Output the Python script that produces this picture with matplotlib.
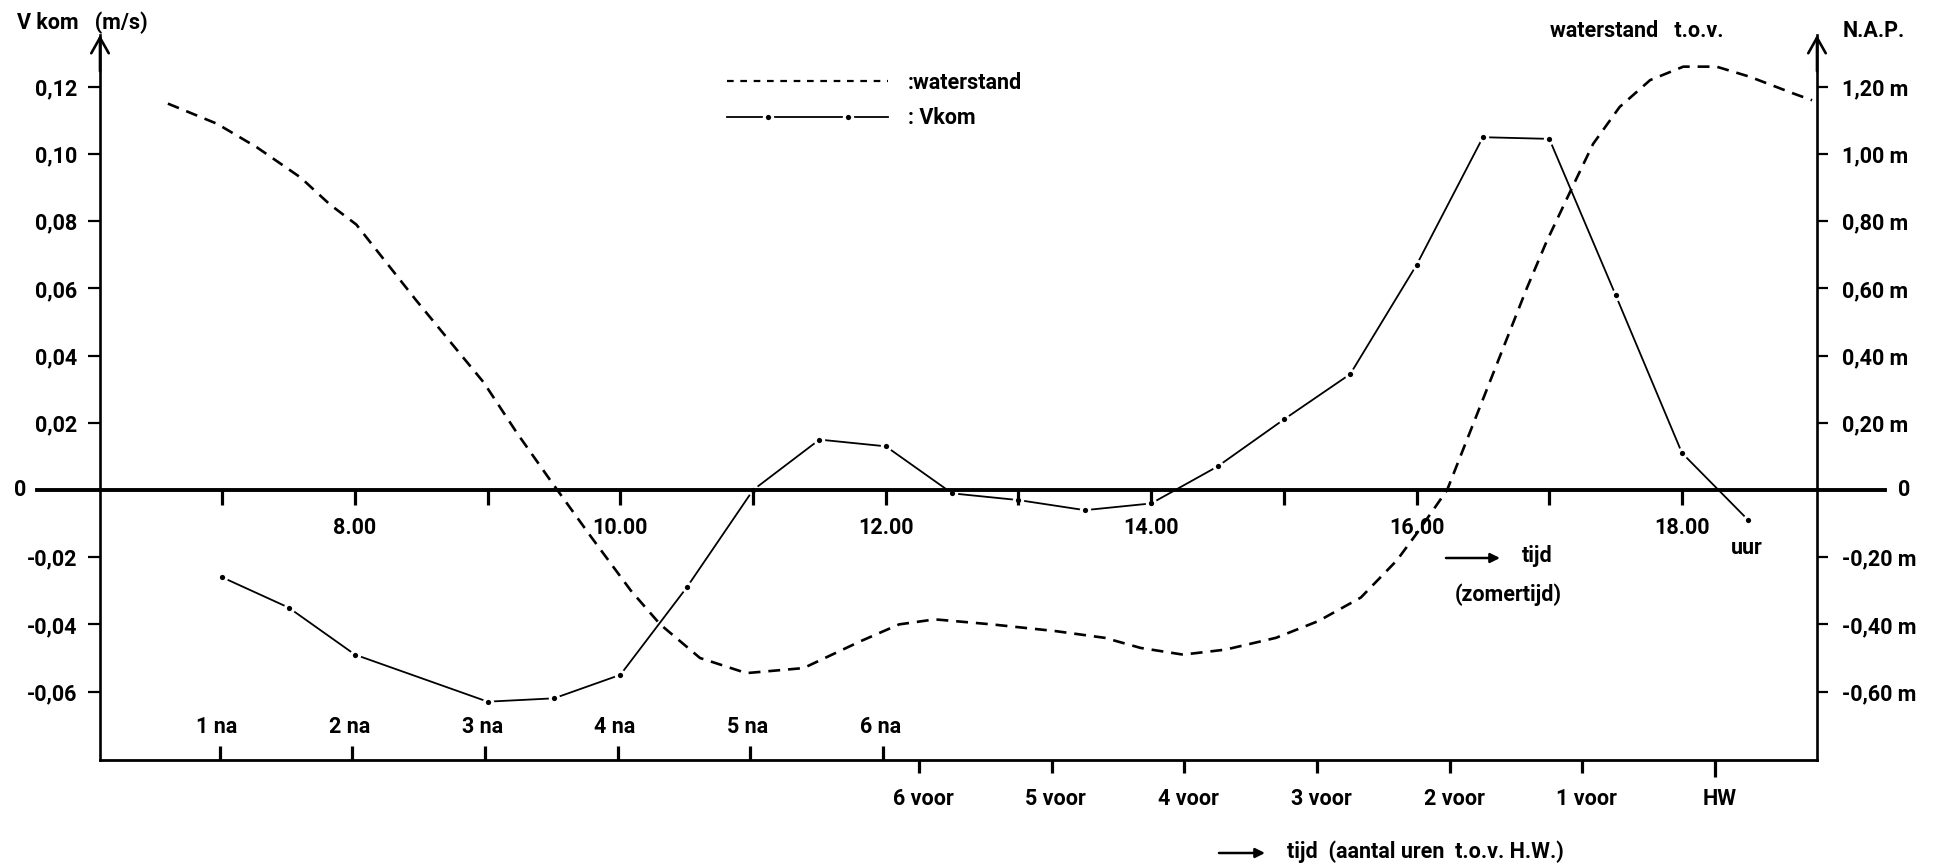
import matplotlib
matplotlib.use('Agg')
import matplotlib.pyplot as plt
from matplotlib.lines import Line2D
from matplotlib.legend_handler import HandlerLine2D, HandlerTuple
from matplotlib.markers import TICKUP, TICKDOWN

# ---------------- data ----------------
# Vkom (m/s) against clock time (hours, zomertijd)
vkom_time = [7.0, 7.5, 8.0, 9.0, 9.5, 10.0, 10.5, 11.0, 11.5, 12.0, 12.5, 13.0,
             13.5, 14.0, 14.5, 15.0, 15.5, 16.0, 16.5, 17.0, 17.5, 18.0, 18.5]
vkom_value = [-0.026, -0.035, -0.049, -0.063, -0.062, -0.055, -0.029, 0.000,
              0.015, 0.013, -0.001, -0.003, -0.006, -0.004, 0.007, 0.021,
              0.0345, 0.067, 0.105, 0.1045, 0.058, 0.011, -0.009]

# waterstand t.o.v. N.A.P. (m) against clock time
water_time = [6.59, 6.96, 7.26, 7.59, 7.81, 8.01, 8.21, 8.46, 8.72, 8.97, 9.22,
              9.47, 9.78, 10.08, 10.30, 10.60, 10.95, 11.38, 11.81, 12.10, 12.37,
              12.80, 13.28, 13.65, 13.92, 14.24, 14.56, 14.94, 15.26, 15.58,
              15.85, 16.00, 16.23, 16.43, 16.63, 16.83, 16.98, 17.16, 17.33,
              17.53, 17.76, 18.01, 18.26, 18.51, 18.84, 18.98]
water_level = [1.15, 1.09, 1.02, 0.93, 0.85, 0.79, 0.69, 0.565, 0.44, 0.32, 0.17,
               0.03, -0.14, -0.30, -0.40, -0.50, -0.545, -0.53, -0.45, -0.40,
               -0.385, -0.40, -0.42, -0.44, -0.47, -0.49, -0.475, -0.44, -0.39,
               -0.32, -0.21, -0.13, 0.00, 0.20, 0.40, 0.60, 0.74, 0.89, 1.03,
               1.14, 1.22, 1.26, 1.26, 1.23, 1.18, 1.16]

clock_ticks = [7, 8, 9, 10, 11, 12, 13, 14, 15, 16, 17, 18]
clock_label_hours = [8, 10, 12, 14, 16, 18]
clock_labels = ['8.00', '10.00', '12.00', '14.00', '16.00', '18.00']

left_ticks = [-0.06, -0.04, -0.02, 0.02, 0.04, 0.06, 0.08, 0.10, 0.12]
left_labels = ['-0,06', '-0,04', '-0,02', '0,02', '0,04', '0,06', '0,08', '0,10', '0,12']
right_ticks = [-0.6, -0.4, -0.2, 0.2, 0.4, 0.6, 0.8, 1.0, 1.2]
right_labels = ['-0,60 m', '-0,40 m', '-0,20 m', '0,20 m', '0,40 m', '0,60 m',
                '0,80 m', '1,00 m', '1,20 m']

prev_hw = 5.98          # clock time of previous high water
hw = 18.25              # clock time of high water
na_hours = [1, 2, 3, 4, 5, 6]
na_labels = ['1 na', '2 na', '3 na', '4 na', '5 na', '6 na']
voor_hours = [6, 5, 4, 3, 2, 1, 0]
voor_labels = ['6 voor', '5 voor', '4 voor', '3 voor', '2 voor', '1 voor', 'HW']

# ---------------- layout ----------------
W, H, DPI = 1958, 867, 100
FS = 15.5
plt.rcParams['font.family'] = ['Roboto', 'DejaVu Sans']
plt.rcParams['font.size'] = FS
plt.rcParams['font.weight'] = 'bold'

def fx(px):
    return px / W

def fy(py):
    return 1 - py / H

AX_L, AX_R, AX_T, AX_B = 100, 1817, 35, 760
X_REF_PX, T_REF, PX_PER_H = 355, 8.0, 132.7
ZERO_PX, PX_PER_UNIT = 490, 3360.0

fig = plt.figure(figsize=(W / DPI, H / DPI), dpi=DPI)
ax = fig.add_axes([fx(AX_L), fy(AX_B), fx(AX_R) - fx(AX_L), fy(AX_T) - fy(AX_B)])
ax.set_xlim(T_REF + (AX_L - X_REF_PX) / PX_PER_H, T_REF + (AX_R - X_REF_PX) / PX_PER_H)
ylo, yhi = (ZERO_PX - AX_B) / PX_PER_UNIT, (ZERO_PX - AX_T) / PX_PER_UNIT
ax.set_ylim(ylo, yhi)
ax2 = ax.twinx()
ax2.set_ylim(ylo * 10, yhi * 10)

for s in ['top', 'right']:
    ax.spines[s].set_visible(False)
for s in ['top', 'left', 'bottom']:
    ax2.spines[s].set_visible(False)
ax.spines['left'].set_linewidth(1.9)
ax.spines['bottom'].set_linewidth(2.0)
ax2.spines['right'].set_linewidth(1.9)

ax.set_xticks([])
ax.set_yticks(left_ticks)
ax.set_yticklabels(left_labels)
ax.tick_params(axis='y', direction='out', length=8.5, width=1.6, pad=8, labelsize=FS)
ax2.set_yticks(right_ticks)
ax2.set_yticklabels(right_labels)
ax2.tick_params(axis='y', direction='out', length=8, width=1.6, pad=10, labelsize=FS)

# axis arrows
for xa in (0.0, 1.0):
    ax.annotate('', xy=(xa, 1.0), xytext=(xa, 0.95), xycoords='axes fraction',
                arrowprops=dict(arrowstyle='->,head_length=0.8,head_width=0.45',
                                lw=1.9, color='k', mutation_scale=14, shrinkA=0, shrinkB=0))

# zero line, extending past both axes
ax.plot([(37 - AX_L) / (AX_R - AX_L), (1885 - AX_L) / (AX_R - AX_L)], [0, 0],
        transform=ax.get_yaxis_transform(), color='k', lw=2.8, clip_on=False, zorder=4)
ax.text(-0.043, 0, '0', transform=ax.get_yaxis_transform(), ha='right', va='center')
ax.text(1.047, 0, '0', transform=ax.get_yaxis_transform(), ha='left', va='center')

# clock ticks on zero line
ax.plot(clock_ticks, [0] * len(clock_ticks), ls='none', marker=TICKDOWN, ms=11,
        mew=2.3, color='k', zorder=4, clip_on=False)
for h, lab in zip(clock_label_hours, clock_labels):
    ax.annotate(lab, (h, 0), xytext=(0, -27), textcoords='offset points',
                ha='center', va='center')

# bottom "na" / "voor" ticks
na_pos = [prev_hw + n for n in na_hours]
voor_pos = [hw - n for n in voor_hours]
ax.plot(na_pos, [0] * len(na_pos), transform=ax.get_xaxis_transform(), ls='none',
        marker=TICKUP, ms=10, mew=2.3, color='k', clip_on=False)
ax.plot(voor_pos[:-1], [0] * (len(voor_pos) - 1), transform=ax.get_xaxis_transform(),
        ls='none', marker=TICKDOWN, ms=9, mew=2.3, color='k', clip_on=False)
ax.plot(voor_pos[-1:], [0], transform=ax.get_xaxis_transform(), ls='none',
        marker=TICKDOWN, ms=12, mew=2.3, color='k', clip_on=False)
for p, lab in zip(na_pos, na_labels):
    ax.annotate(lab, (p, 0), xycoords=('data', 'axes fraction'), xytext=(-2, 24),
                textcoords='offset points', ha='center', va='center')
for p, lab in zip(voor_pos, voor_labels):
    ax.annotate(lab, (p, 0), xycoords=('data', 'axes fraction'), xytext=(3, -28),
                textcoords='offset points', ha='center', va='center')

# series
ax2.plot(water_time, water_level, color='k', lw=1.9, ls=(0, (4.5, 3)), zorder=3)
ax.plot(vkom_time, vkom_value, color='k', lw=1.3, zorder=2)
ax.plot(vkom_time, vkom_value, ls='none', marker='o', ms=6, mfc='k', mec='white',
        mew=2.2, zorder=2.5)

# legend
h_w = Line2D([], [], color='k', lw=1.6, ls=(0, (3, 3)))
h_vl = Line2D([], [], color='k', lw=1.3)
h_vm = Line2D([], [], color='k', ls='none', marker='o', ms=6, mfc='k', mec='white', mew=2.2)
fig.legend([h_w, (h_vl, h_vm)], [':waterstand', ': Vkom'], loc='upper left',
           bbox_to_anchor=(fx(727), fy(72)), frameon=False, fontsize=FS,
           handlelength=7.5, handletextpad=0.9, labelspacing=0.62, borderpad=0,
           borderaxespad=0,
           handler_map={tuple: HandlerTuple(ndivide=1, pad=0),
                        h_vm: HandlerLine2D(numpoints=2, marker_pad=1.9)})

# texts
fig.text(fx(17), fy(23), 'V kom   (m/s)', ha='left', va='center')
fig.text(fx(1550), fy(31), 'waterstand   t.o.v.', ha='left', va='center')
fig.text(fx(1843), fy(31), 'N.A.P.', ha='left', va='center')
fig.text(fx(1747), fy(548), 'uur', ha='center', va='center')

ax.annotate('', xy=(fx(1500), fy(558)), xytext=(fx(1446), fy(558)),
            xycoords='figure fraction',
            arrowprops=dict(arrowstyle='-|>', lw=1.8, color='k', mutation_scale=14,
                            shrinkA=0, shrinkB=0))
fig.text(fx(1522), fy(556), 'tijd', ha='left', va='center')
fig.text(fx(1455), fy(595), '(zomertijd)', ha='left', va='center')

ax.annotate('', xy=(fx(1265), fy(853)), xytext=(fx(1219), fy(853)),
            xycoords='figure fraction',
            arrowprops=dict(arrowstyle='-|>', lw=1.8, color='k', mutation_scale=14,
                            shrinkA=0, shrinkB=0))
fig.text(fx(1287), fy(852), 'tijd  (aantal uren  t.o.v. H.W.)', ha='left', va='center')

fig.savefig('out.png', dpi=DPI)
